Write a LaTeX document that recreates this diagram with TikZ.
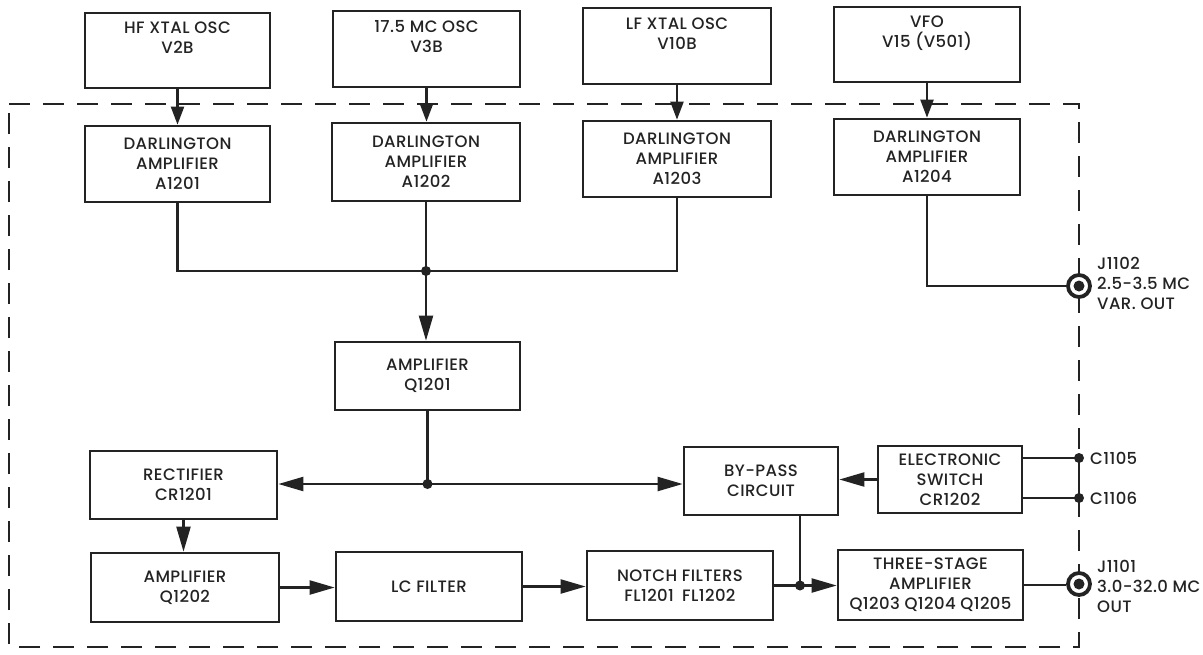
\documentclass[tikz,border=0pt]{standalone}
\usepackage{fontspec}
\IfFontExistsTF{Poppins Medium}{\setmainfont{Poppins Medium}[LetterSpace=2.5]}{\setmainfont{Poppins}[LetterSpace=2.5,FakeBold=1.2]}
\usetikzlibrary{arrows.meta,calc}
\definecolor{ink}{RGB}{35,35,35}
\begin{document}
\begin{tikzpicture}[x=1pt,y=-1pt,
  lbl/.style={font=\fontsize{16.5}{20}\selectfont,text=ink},
  box/.style={draw=ink,line width=2.7pt,inner sep=0pt,align=center,lbl},
  txt/.style={inner sep=0pt,align=center,lbl},
  wire/.style={draw=ink,line width=2.2pt},
  arr/.style={wire,-{Triangle[length=25pt,width=14pt]}},
  sarr/.style={wire,-{Triangle[length=18pt,width=13pt]}},
  jdot/.style={circle,fill=ink,inner sep=0pt,minimum size=10pt},
  jack/.style={circle,draw=ink,line width=3.8pt,fill=white,minimum size=22pt,inner sep=0pt,
    path picture={\fill[ink] (path picture bounding box.center) circle (5.5pt);}},
  border/.style={draw=ink,line width=2.6pt,dash pattern=on 21pt off 13pt}]
\fill[white] (0,0) rectangle (1203,654);
\useasboundingbox (0,0) rectangle (1203,654);

% dashed enclosure
\draw[border] (9,104) -- (1079,104) -- (1079,647) -- (9,647) -- cycle;

% oscillators
\node[box,minimum width=185pt,minimum height=75pt] (hf) at (177.5,50.5) {};
\node[box,minimum width=187pt,minimum height=76pt] (mc) at (426.5,49) {};
\node[box,minimum width=188pt,minimum height=76pt] (lf) at (677,46) {};
\node[box,minimum width=186pt,minimum height=75pt] (vfo) at (927,44.5) {};
\node[txt,anchor=north] (hft) at ($(hf.north)+(0,10)$) {HF XTAL OSC\\V2B};
\node[txt,anchor=north] (mct) at ($(mc.north)+(0,11)$) {17.5 MC OSC\\V3B};
\node[txt,anchor=north] (lft) at ($(lf.north)+(0,11)$) {LF XTAL OSC\\V10B};
\node[txt,anchor=north] (vfot) at ($(vfo.north)+(0,10)$) {VFO\\V15 (V501)};

% darlington amplifiers
\node[box,minimum width=185pt,minimum height=76pt] (d1) at (177.5,164) {DARLINGTON\\AMPLIFIER\\A1201};
\node[box,minimum width=188pt,minimum height=78pt] (d2) at (426,162) {DARLINGTON\\AMPLIFIER\\A1202};
\node[box,minimum width=188pt,minimum height=76pt] (d3) at (677,159) {DARLINGTON\\AMPLIFIER\\A1203};
\node[box,minimum width=186pt,minimum height=76pt] (d4) at (927,157) {DARLINGTON\\AMPLIFIER\\A1204};

% other blocks
\node[box,minimum width=185pt,minimum height=68pt] (q1201) at (427.5,376) {AMPLIFIER\\Q1201};
\node[box,minimum width=187pt,minimum height=68pt] (rect) at (183.5,485) {RECTIFIER\\CR1201};
\node[box,minimum width=188pt,minimum height=69pt] (q1202) at (185,587.5) {AMPLIFIER\\Q1202};
\node[box,minimum width=186pt,minimum height=69pt] (lc) at (429,586.5) {LC FILTER};
\node[box,minimum width=186pt,minimum height=69pt] (notch) at (680,585.5) {NOTCH FILTERS\\FL1201\enspace FL1202};
\node[box,minimum width=154pt,minimum height=68pt] (bypass) at (761,481) {BY-PASS\\CIRCUIT};
\node[box,minimum width=144pt,minimum height=67pt] (esw) at (950,479.5) {ELECTRONIC\\SWITCH\\CR1202};
\node[box,minimum width=185pt,minimum height=70pt] (three) at (930.5,585) {THREE-STAGE\\AMPLIFIER\\Q1203 Q1204 Q1205};

% junctions and terminals
\coordinate (j1) at (426,271);
\coordinate (j2) at (427.5,484);
\coordinate (j3) at (800,585.5);
\node[jdot] (c1105) at (1079,458) {};
\node[jdot] (c1106) at (1079,498) {};

% connectors
\draw[sarr] (hf.south) -- (hf.south |- d1.north);
\draw[sarr] (mc.south) -- (mc.south |- d2.north);
\draw[sarr] (lf.south) -- (lf.south |- d3.north);
\draw[sarr] (vfo.south) -- (vfo.south |- d4.north);
\draw[wire] (d1.south) |- (j1);
\draw[wire] (d2.south) -- (j1);
\draw[wire] (d3.south) |- (j1);
\draw[arr] (j1) -- (j1 |- q1201.north);
\draw[wire] (q1201.south) -- (j2);
\draw[arr] (j2) -- (j2 -| rect.east);
\draw[arr] (j2) -- (j2 -| bypass.west);
\draw[arr] (rect.south) -- (rect.south |- q1202.north);
\draw[arr] (q1202.east) -- (q1202.east -| lc.west);
\draw[arr] (lc.east) -- (lc.east -| notch.west);
\draw[wire] (notch.east) -- (j3);
\draw[wire] (j3 |- bypass.south) -- (j3);
\draw[arr] (j3) -- (j3 -| three.west);
\draw[arr] (esw.west) -- (esw.west -| bypass.east);
\draw[wire] (c1105 -| esw.east) -- (c1105.center);
\draw[wire] (c1106 -| esw.east) -- (c1106.center);
\draw[wire] (c1105.center) -- (c1106.center);

\node[jack] (j1102) at (1079,286) {};
\node[jack] (j1101) at (1079,584) {};
\draw[wire] (d4.south) |- (j1102);
\draw[wire] (three.east) -- (three.east -| j1101.west);

\node[jdot] at (j1) {};
\node[jdot] at (j2) {};
\node[jdot] at (j3) {};

% terminal labels
\node[txt,align=left,anchor=north west] (l1102) at (1097,257) {J1102\\2.5-3.5 MC\\VAR. OUT};
\node[txt,align=left,anchor=north west] (l1101) at (1097,560) {J1101\\3.0-32.0 MC\\OUT};
\node[txt,anchor=west] (l1105) at (1090,458) {C1105};
\node[txt,anchor=west] (l1106) at (1090,498) {C1106};
\end{tikzpicture}
\end{document}
